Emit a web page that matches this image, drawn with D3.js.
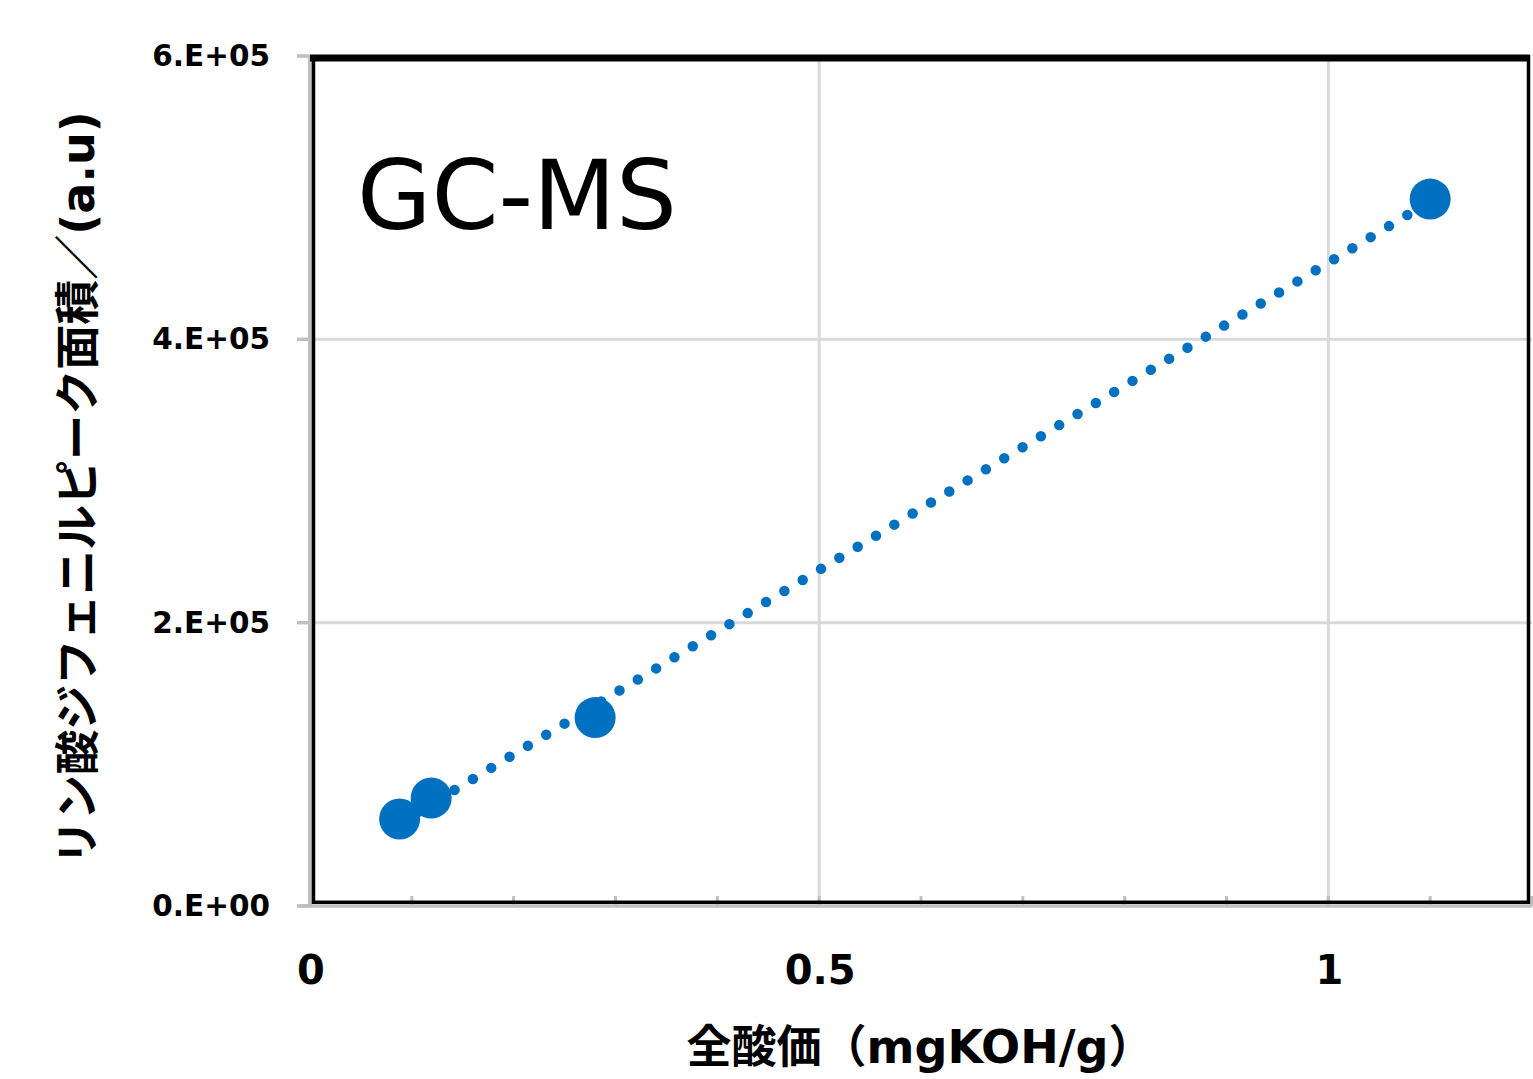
<!DOCTYPE html>
<html>
<head>
<meta charset="utf-8">
<script src="https://cdn.jsdelivr.net/npm/d3@7"></script>
<style>
  html, body { margin: 0; padding: 0; background: #fff; }
  svg { display: block; }
</style>
</head>
<body>
<svg id="chart" width="1533" height="1079"></svg>
<script>
// ---- data ----
const acidValues = [0.088, 0.119, 0.28, 1.1];          // 全酸価 (mgKOH/g)
const peakAreas  = [61400, 76200, 133000, 499000];     // ピーク面積 (a.u)
const xTickValues = [0, 0.5, 1];
const xTickLabels = ["0", "0.5", "1"];
const xMinorTicks = [0.1, 0.2, 0.3, 0.4, 0.5, 0.6, 0.7, 0.8, 0.9, 1.0, 1.1, 1.2];
const yTickValues = [0, 200000, 400000, 600000];
const yTickLabels = ["0.E+00", "2.E+05", "4.E+05", "6.E+05"];
const titleText = "GC-MS";
const xTitleParts = [["全酸価（", "cjk"], ["mgKOH/g", "lat"], ["）", "cjk"]];
const yTitleParts = [["リン酸ジフェニルピーク面積／", "cjk"], ["(a.u)", "lat"]];

const svg = d3.select("#chart");
const x = d3.scaleLinear().domain([0, 1.2]).range([310, 1532]);
const y = d3.scaleLinear().domain([0, 600000]).range([906, 56]);

const blue = "#0070C0";
const gridColor = "#d9d9d9";
const axisGray = "#bfbfbf";
const latFont = "DejaVu Sans, Verdana, sans-serif";
const cjkFont = "Noto Sans CJK JP, sans-serif";

// gridlines
svg.append("g").selectAll("line").data([0.5, 1.0]).join("line")
  .attr("x1", d => x(d)).attr("x2", d => x(d))
  .attr("y1", y(600000)).attr("y2", y(0))
  .attr("stroke", gridColor).attr("stroke-width", 3);
svg.append("g").selectAll("line").data([200000, 400000]).join("line")
  .attr("x1", x(0)).attr("x2", x(1.2))
  .attr("y1", d => y(d)).attr("y2", d => y(d))
  .attr("stroke", gridColor).attr("stroke-width", 3);

// gray axes
svg.append("line").attr("x1", x(0)).attr("x2", x(0)).attr("y1", y(600000)).attr("y2", y(0) + 1.5)
  .attr("stroke", axisGray).attr("stroke-width", 4);
svg.append("line").attr("x1", 297).attr("x2", x(1.2)).attr("y1", y(0)).attr("y2", y(0))
  .attr("stroke", axisGray).attr("stroke-width", 3.5);
// y ticks
svg.append("g").selectAll("line").data(yTickValues).join("line")
  .attr("x1", 297).attr("x2", x(0))
  .attr("y1", d => y(d)).attr("y2", d => y(d))
  .attr("stroke", axisGray).attr("stroke-width", 3.5);
// x minor ticks
svg.append("g").selectAll("line").data(xMinorTicks).join("line")
  .attr("x1", d => x(d)).attr("x2", d => x(d))
  .attr("y1", y(0) - 10).attr("y2", y(0))
  .attr("stroke", axisGray).attr("stroke-width", 3);

// black frame
const fL = 313.5, fR = 1528.5, fT = 58, fB = 902.3;
svg.append("line").attr("x1", 310).attr("x2", 1530).attr("y1", fT).attr("y2", fT)
  .attr("stroke", "#000").attr("stroke-width", 7);
svg.append("line").attr("x1", fL).attr("x2", fL).attr("y1", 55).attr("y2", 904)
  .attr("stroke", "#000").attr("stroke-width", 3.5);
svg.append("line").attr("x1", fR).attr("x2", fR).attr("y1", 55).attr("y2", 904)
  .attr("stroke", "#000").attr("stroke-width", 3.5);
svg.append("line").attr("x1", 312).attr("x2", 1530).attr("y1", fB).attr("y2", fB)
  .attr("stroke", "#000").attr("stroke-width", 3.5);

// tick labels
svg.append("g").selectAll("text").data(yTickValues).join("text")
  .attr("x", 270).attr("y", d => y(d) + 10)
  .attr("text-anchor", "end")
  .attr("font-family", latFont)
  .attr("font-weight", "bold").attr("font-size", 29.5)
  .text((d, i) => yTickLabels[i]);
svg.append("g").selectAll("text").data(xTickValues).join("text")
  .attr("x", d => x(d) + 1).attr("y", 984)
  .attr("text-anchor", "middle")
  .attr("font-family", latFont)
  .attr("font-weight", "bold").attr("font-size", 40)
  .text((d, i) => xTickLabels[i]);

// trendline (least squares)
const n = acidValues.length;
const mx = d3.mean(acidValues), my = d3.mean(peakAreas);
let sxy = 0, sxx = 0;
for (let i = 0; i < n; i++) { sxy += (acidValues[i]-mx)*(peakAreas[i]-my); sxx += (acidValues[i]-mx)**2; }
const slope = sxy / sxx, intercept = my - slope * mx;
const x0 = d3.min(acidValues), x1 = d3.max(acidValues);
svg.append("line")
  .attr("x1", x(x0)).attr("y1", y(intercept + slope * x0))
  .attr("x2", x(x1)).attr("y2", y(intercept + slope * x1))
  .attr("stroke", blue).attr("stroke-width", 10.5)
  .attr("stroke-linecap", "round")
  .attr("stroke-dasharray", "0,21.4");

// points
svg.append("g").selectAll("circle").data(acidValues).join("circle")
  .attr("cx", d => x(d)).attr("cy", (d, i) => y(peakAreas[i]))
  .attr("r", 20.5).attr("fill", blue);

// title
svg.append("text").attr("x", 357).attr("y", 229)
  .attr("font-family", latFont)
  .attr("font-size", 96).attr("fill", "#000")
  .text(titleText);

// axis titles
function addParts(t, parts, cjkSize, latSize) {
  t.selectAll("tspan").data(parts).join("tspan")
    .attr("font-family", d => d[1] === "cjk" ? cjkFont : latFont)
    .attr("font-size", d => d[1] === "cjk" ? cjkSize : latSize)
    .text(d => d[0]);
}
const xt = svg.append("text").attr("x", 920).attr("y", 1063)
  .attr("text-anchor", "middle")
  .attr("font-weight", "bold");
addParts(xt, xTitleParts, 45, 46);

const yt = svg.append("text")
  .attr("transform", "translate(94,488) rotate(-90)")
  .attr("text-anchor", "middle")
  .attr("font-weight", "bold");
addParts(yt, yTitleParts, 45, 46);
</script>
</body>
</html>
